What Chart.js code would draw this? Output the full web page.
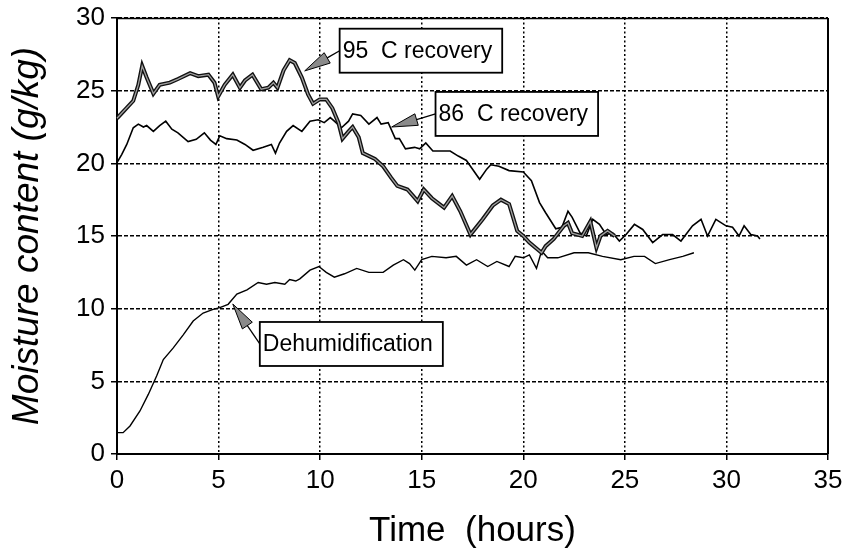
<!DOCTYPE html>
<html>
<head>
<meta charset="utf-8">
<title>Moisture content vs time</title>
<script src="https://cdn.jsdelivr.net/npm/chart.js@4.4.1/dist/chart.umd.min.js"></script>
<style>
    body { margin: 0; background: #fff; }
    #chart { display: block; }
</style>
</head>
<body>
<canvas id="chart" width="844" height="551"></canvas>
<script>
// 95 C recovery (hours, g/kg)
const t95 = [0, 0.4, 0.8, 1.05, 1.24, 1.46, 1.79, 2.1, 2.6, 3.0, 3.6, 4.0, 4.5, 4.8, 4.98, 5.3, 5.7, 6.05,
    6.3, 6.67, 7.1, 7.45, 7.7, 7.9, 8.2, 8.5, 8.75, 9.1, 9.4, 9.65, 9.98, 10.3, 10.6, 10.9, 11.1, 11.4,
    11.6, 11.9, 12.1, 12.7, 13.1, 13.5, 13.8, 14.3, 14.8, 15.1, 15.5, 16.1, 16.5, 16.9, 17.4, 18.0, 18.5,
    18.9, 19.3, 19.7, 20.0, 20.3, 20.9, 21.1, 21.5, 22.0, 22.2, 22.4, 22.9, 23.3, 23.6, 23.8, 24.15, 24.5];
const m95 = [23.1, 23.7, 24.3, 25.4, 26.7, 25.9, 24.8, 25.4, 25.55, 25.8, 26.2, 26.0, 26.1, 25.55, 24.6, 25.4, 26.1, 25.2,
    25.7, 26.1, 25.1, 25.2, 25.55, 25.2, 26.4, 27.1, 26.9, 25.9, 24.75, 24.1, 24.4, 24.4, 23.8, 22.8, 21.7, 22.2,
    22.5, 21.8, 20.7, 20.3, 19.8, 19.0, 18.45, 18.2, 17.4, 18.2, 17.6, 16.95, 17.75, 16.7, 15.1, 16.15, 17.1,
    17.5, 17.2, 15.35, 15.0, 14.55, 13.85, 14.3, 14.8, 15.7, 15.9, 15.2, 15.0, 16.0, 14.2, 15.0, 15.35, 15.0];

// 86 C recovery
const t86 = [0, 0.23, 0.48, 0.8, 1.05, 1.3, 1.46, 1.79, 2.1, 2.4, 2.7, 3.0, 3.5, 3.9, 4.3, 4.6, 4.87, 5.06,
    5.4, 5.9, 6.3, 6.7, 7.2, 7.6, 7.8, 8.0, 8.35, 8.67, 9.1, 9.5, 9.9, 10.2, 10.5, 10.7, 11.05, 11.4, 11.6,
    12.0, 12.4, 12.8, 13.0, 13.35, 13.7, 13.9, 14.2, 14.65, 14.9, 15.2, 15.55, 16.4, 16.8, 17.2, 17.4, 17.85,
    18.2, 18.4, 18.8, 19.3, 20.0, 20.4, 20.8, 21.1, 21.6, 21.9, 22.2, 22.4, 22.8, 23.1, 23.42, 23.75, 24.08,
    24.4, 24.73, 25.06, 25.47, 25.88, 26.37, 26.86, 27.35, 27.76, 28.33, 28.75, 29.07, 29.48, 29.98, 30.3,
    30.62, 30.87, 31.2, 31.53, 31.65];
const m86 = [20.05, 20.6, 21.3, 22.45, 22.7, 22.5, 22.6, 22.2, 22.6, 22.9, 22.35, 22.1, 21.5, 21.65, 22.1, 21.6, 21.3, 21.9,
    21.7, 21.6, 21.3, 20.9, 21.1, 21.3, 20.7, 21.4, 22.2, 22.6, 22.2, 22.9, 23.0, 22.8, 23.15, 22.9, 22.45, 22.9, 23.4,
    23.3, 22.7, 23.15, 22.7, 22.8, 21.7, 21.7, 21.0, 21.1, 21.0, 21.4, 20.85, 20.85, 20.5, 20.2, 19.8, 18.9,
    19.6, 19.9, 19.8, 19.5, 19.4, 18.8, 17.3, 16.6, 15.5, 15.6, 16.7, 16.3, 15.2, 15.0, 16.15, 15.8, 15.1,
    15.2, 14.65, 15.1, 15.8, 15.45, 14.55, 15.1, 15.1, 14.65, 15.7, 16.15, 15.0, 16.15, 15.7, 15.6,
    15.0, 15.7, 15.1, 15.0, 14.8];

// Dehumidification
const tDeh = [0, 0.3, 0.64, 1.13, 1.54, 1.95, 2.28, 2.77, 3.26, 3.75, 4.24, 4.73, 5.06, 5.47, 5.9, 6.4, 6.95,
    7.36, 7.77, 8.26, 8.5, 8.8, 9.0, 9.5, 9.94, 10.3, 10.7, 11.2, 11.8, 12.4, 13.1, 13.6, 14.1, 14.4, 14.66,
    15.0, 15.5, 16.2, 16.7, 17.2, 17.7, 18.25, 18.7, 19.3, 19.6, 20.0, 20.3, 20.65, 20.9, 21.2, 21.7, 22.5,
    23.2, 23.9, 24.8, 25.45, 25.97, 26.5, 27.2, 27.85, 28.4];
const mDeh = [1.47, 1.47, 1.93, 2.96, 4.1, 5.37, 6.5, 7.3, 8.2, 9.15, 9.7, 9.95, 10.07, 10.3, 11.0, 11.3, 11.8,
    11.68, 11.8, 11.68, 12.0, 11.9, 12.05, 12.65, 12.9, 12.5, 12.17, 12.4, 12.77, 12.5, 12.5, 13.0, 13.37, 13.1, 12.65,
    13.37, 13.6, 13.5, 13.6, 13.0, 13.37, 12.9, 13.25, 12.9, 13.6, 13.5, 13.7, 12.77, 13.97, 13.5, 13.5, 13.85,
    13.85, 13.6, 13.37, 13.6, 13.6, 13.1, 13.37, 13.6, 13.85];

// axes
const xMin = 0, xMax = 35, xStep = 5;
const yMin = 0, yMax = 30, yStep = 5;

// callout boxes: text, arrow tip and box anchor (left edge, middle) in data units
const callouts = [
    { text: '95  C recovery', tipX: 9.24, tipY: 26.36, boxX: 10.96, boxY: 27.75 },
    { text: '86  C recovery', tipX: 13.52, tipY: 22.5, boxX: 15.68, boxY: 23.4 },
    { text: 'Dehumidification', tipX: 5.7, tipY: 10.32, boxX: 7.03, boxY: 7.57 }
];

const FONT = "'Liberation Sans', Arial, Helvetica, sans-serif";

function toPoints(xs, ys) {
    return xs.map((x, i) => ({ x: x, y: ys[i] }));
}

// light core on the thick 95 C line
const doubleStroke = {
    id: 'doubleStroke',
    afterDatasetDraw(chart, args) {
        if (args.index !== 0) return;
        const line = args.meta.dataset;
        const saved = line.options;
        line.options = Object.assign({}, saved, { borderColor: '#a0a0a0', borderWidth: 1.3 });
        line.draw(chart.ctx, chart.chartArea);
        line.options = saved;
    }
};

// top and right frame
const frame = {
    id: 'frame',
    afterDraw(chart) {
        const { ctx, chartArea: a } = chart;
        ctx.save();
        ctx.strokeStyle = '#000';
        ctx.lineWidth = 1.5;
        ctx.beginPath();
        ctx.moveTo(a.left, a.top + 0.5);
        ctx.lineTo(a.right, a.top + 0.5);
        ctx.stroke();
        ctx.lineWidth = 2;
        ctx.beginPath();
        ctx.moveTo(a.right, a.top);
        ctx.lineTo(a.right, a.bottom);
        ctx.stroke();
        ctx.restore();
    }
};

const calloutPlugin = {
    id: 'callouts',
    afterDatasetsDraw(chart) {
        const { ctx, scales } = chart;
        ctx.save();
        ctx.font = '23px ' + FONT;
        ctx.textBaseline = 'middle';
        callouts.forEach(c => {
            const bx = scales.x.getPixelForValue(c.boxX);
            const by = scales.y.getPixelForValue(c.boxY);
            const tx = scales.x.getPixelForValue(c.tipX);
            const ty = scales.y.getPixelForValue(c.tipY);
            const w = ctx.measureText(c.text).width + 13;
            const h = 44;

            // arrow shaft
            const ang = Math.atan2(ty - by, tx - bx);
            const headLen = 26, headHalf = 6;
            const baseX = tx - Math.cos(ang) * headLen;
            const baseY = ty - Math.sin(ang) * headLen;
            ctx.strokeStyle = '#000';
            ctx.lineWidth = 1.3;
            ctx.beginPath();
            ctx.moveTo(bx, by);
            ctx.lineTo(baseX, baseY);
            ctx.stroke();

            // arrow head
            ctx.beginPath();
            ctx.moveTo(tx, ty);
            ctx.lineTo(baseX + Math.sin(ang) * headHalf, baseY - Math.cos(ang) * headHalf);
            ctx.lineTo(baseX - Math.sin(ang) * headHalf, baseY + Math.cos(ang) * headHalf);
            ctx.closePath();
            ctx.fillStyle = '#8a8a8a';
            ctx.fill();
            ctx.lineWidth = 1;
            ctx.stroke();

            // box
            ctx.fillStyle = '#fff';
            ctx.fillRect(bx, by - h / 2, w, h);
            ctx.lineWidth = 1.8;
            ctx.strokeRect(bx, by - h / 2, w, h);
            ctx.fillStyle = '#000';
            ctx.fillText(c.text, bx + 3, by + 1);
        });
        ctx.restore();
    }
};

const ctx = document.getElementById('chart').getContext('2d');
new Chart(ctx, {
    type: 'line',
    data: {
        datasets: [
            {
                label: '95 C recovery',
                data: toPoints(t95, m95),
                borderColor: '#111',
                borderWidth: 4,
                pointRadius: 0,
                tension: 0
            },
            {
                label: '86 C recovery',
                data: toPoints(t86, m86),
                borderColor: '#000',
                borderWidth: 1.6,
                pointRadius: 0,
                tension: 0
            },
            {
                label: 'Dehumidification',
                data: toPoints(tDeh, mDeh),
                borderColor: '#000',
                borderWidth: 1.4,
                pointRadius: 0,
                tension: 0
            }
        ]
    },
    options: {
        responsive: false,
        animation: false,
        layout: { padding: { top: 18, right: 16, left: 0, bottom: 0 } },
        plugins: {
            legend: { display: false },
            tooltip: { enabled: false }
        },
        scales: {
            x: {
                type: 'linear',
                min: xMin,
                max: xMax,
                afterFit: scale => {
                    scale.height = 97;
                    scale.paddingLeft = 0;
                    scale.paddingRight = 0;
                },
                ticks: {
                    stepSize: xStep,
                    color: '#000',
                    padding: 5,
                    font: { family: FONT, size: 26 }
                },
                grid: {
                    color: '#000',
                    lineWidth: 1.5,
                    tickLength: 6,
                    tickColor: '#000',
                    tickWidth: 1.5
                },
                border: { color: '#000', width: 2, dash: [2, 2.5] },
                title: {
                    display: true,
                    text: 'Time  (hours)',
                    color: '#000',
                    font: { family: FONT, size: 35 },
                    padding: { top: 0, bottom: -1 }
                }
            },
            y: {
                min: yMin,
                max: yMax,
                afterFit: scale => {
                    scale.width = 117;
                    scale.paddingTop = 0;
                    scale.paddingBottom = 0;
                },
                ticks: {
                    stepSize: yStep,
                    color: '#000',
                    padding: 6,
                    font: { family: FONT, size: 26 }
                },
                grid: {
                    color: '#000',
                    lineWidth: 1.5,
                    tickLength: 6,
                    tickColor: '#000',
                    tickWidth: 1.5
                },
                border: { color: '#000', width: 2, dash: [4, 2] },
                title: {
                    display: true,
                    text: 'Moisture content (g/kg)',
                    color: '#000',
                    font: { family: FONT, size: 37, style: 'italic' },
                    padding: { top: 6, bottom: 0 }
                }
            }
        }
    },
    plugins: [doubleStroke, frame, calloutPlugin]
});
</script>
</body>
</html>
